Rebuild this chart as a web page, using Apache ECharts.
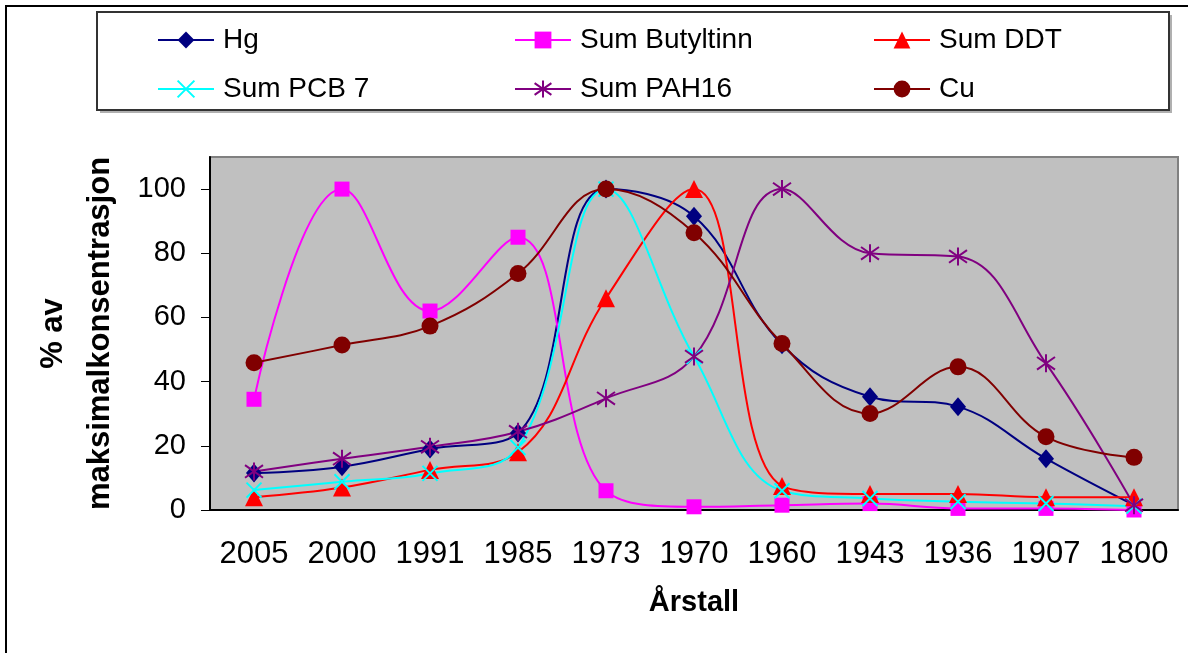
<!DOCTYPE html>
<html>
<head>
<meta charset="utf-8">
<script src="https://cdn.jsdelivr.net/npm/echarts@6/dist/echarts.min.js"></script>
<style>
  html, body { margin: 0; padding: 0; background: #fff; }
  #chart { width: 1188px; height: 653px; }
</style>
</head>
<body>
<div id="chart"></div>
<script>
  // kategorier (årstall) og verdier, % av maksimalkonsentrasjon
  const categories = ['2005', '2000', '1991', '1985', '1973', '1970', '1960', '1943', '1936', '1907', '1800'];
  const hg = [11.5, 13.5, 19, 24, 100, 91.5, 51.5, 35.3, 32.2, 16, 1.5];
  const butyltinn = [34.5, 100, 62, 85, 6, 1, 1.5, 2, 0.5, 0.5, 0];
  const ddt = [4, 7, 12.5, 18, 66, 100, 7.5, 5, 5, 4, 4];
  const pcb7 = [6.2, 8.8, 11.4, 19.5, 100, 47.8, 6, 3.6, 2.6, 2, 1.2];
  const pah16 = [12, 16, 19.7, 24.4, 34.8, 47.8, 100, 80, 79, 45.7, 1.5];
  const cu = [45.9, 51.4, 57.3, 73.7, 100, 86.4, 51.9, 30.1, 44.6, 22.8, 16.4];
  const yTicks = [0, 20, 40, 60, 80, 100];

  const font = 'Liberation Sans, Arial, sans-serif';
  const xMark = 'path://M0,0L10,10M10,0L0,10';
  const starMark = 'path://M5,0L5,10M0,1.5L10,8.5M10,1.5L0,8.5';

  function line(name, data, color, symbol, size, stroke) {
    return {
      name: name,
      type: 'line',
      data: data,
      smooth: 0.4,
      symbol: symbol,
      symbolSize: size,
      lineStyle: { color: color, width: 2 },
      itemStyle: stroke
        ? { color: color, borderColor: color, borderWidth: 2 }
        : { color: color, borderWidth: 0 },
      animation: false
    };
  }

  const legendBase = {
    orient: 'vertical',
    top: 26,
    padding: 0,
    itemWidth: 56,
    itemHeight: 21,
    itemGap: 21,
    textStyle: { fontFamily: font, fontSize: 28, lineHeight: 28, color: '#000', padding: [0, 0, 0, 4] }
  };

  const chart = echarts.init(document.getElementById('chart'));
  chart.setOption({
    backgroundColor: '#fff',
    graphic: [
      { type: 'rect', shape: { x: 6, y: 6, width: 1400, height: 900 }, style: { fill: 'none', stroke: '#000', lineWidth: 2 } },
      { type: 'rect', shape: { x: 100, y: 15, width: 1072, height: 98 }, style: { fill: '#b0b0b0' } },
      { type: 'rect', shape: { x: 97, y: 12, width: 1072, height: 98 }, style: { fill: '#fff', stroke: '#333', lineWidth: 2 } }
    ],
    legend: [
      Object.assign({ left: 157, data: ['Hg', 'Sum PCB 7'] }, legendBase),
      Object.assign({ left: 514, data: ['Sum Butyltinn', 'Sum PAH16'] }, legendBase),
      Object.assign({ left: 873, data: ['Sum DDT', 'Cu'] }, legendBase)
    ],
    grid: {
      left: 210, right: 10, top: 157, bottom: 143,
      show: true, backgroundColor: '#c0c0c0', borderColor: '#808080', borderWidth: 2
    },
    xAxis: {
      type: 'category',
      data: categories,
      boundaryGap: true,
      name: 'Årstall',
      nameLocation: 'middle',
      nameGap: 78,
      nameTextStyle: { fontFamily: font, fontSize: 29, fontWeight: 'bold', color: '#000' },
      axisLine: { lineStyle: { color: '#000', width: 2 } },
      axisTick: { length: 9, alignWithLabel: false, lineStyle: { color: '#000' } },
      axisLabel: { fontFamily: font, fontSize: 31, color: '#000', margin: 29, interval: 0, hideOverlap: false },
      splitLine: { show: false }
    },
    yAxis: {
      type: 'value',
      min: 0,
      max: 110,
      interval: 20,
      name: '% av\nmaksimalkonsentrasjon',
      nameLocation: 'middle',
      nameRotate: 90,
      nameGap: 86,
      nameTextStyle: { fontFamily: font, fontSize: 31, fontWeight: 'bold', color: '#000', lineHeight: 47 },
      axisLine: { show: true, lineStyle: { color: '#000', width: 2 } },
      axisTick: { show: true, length: 9, customValues: yTicks, lineStyle: { color: '#000' } },
      axisLabel: { fontFamily: font, fontSize: 29, color: '#000', margin: 24, customValues: yTicks },
      splitLine: { show: false }
    },
    series: [
      line('Hg', hg, '#000080', 'diamond', [16, 19], false),
      line('Sum Butyltinn', butyltinn, '#ff00ff', 'rect', 15, false),
      line('Sum DDT', ddt, '#ff0000', 'triangle', 18, false),
      line('Sum PCB 7', pcb7, '#00ffff', xMark, 15, true),
      line('Sum PAH16', pah16, '#800080', starMark, 18, true),
      line('Cu', cu, '#800000', 'circle', 17, false)
    ]
  });
</script>
</body>
</html>
